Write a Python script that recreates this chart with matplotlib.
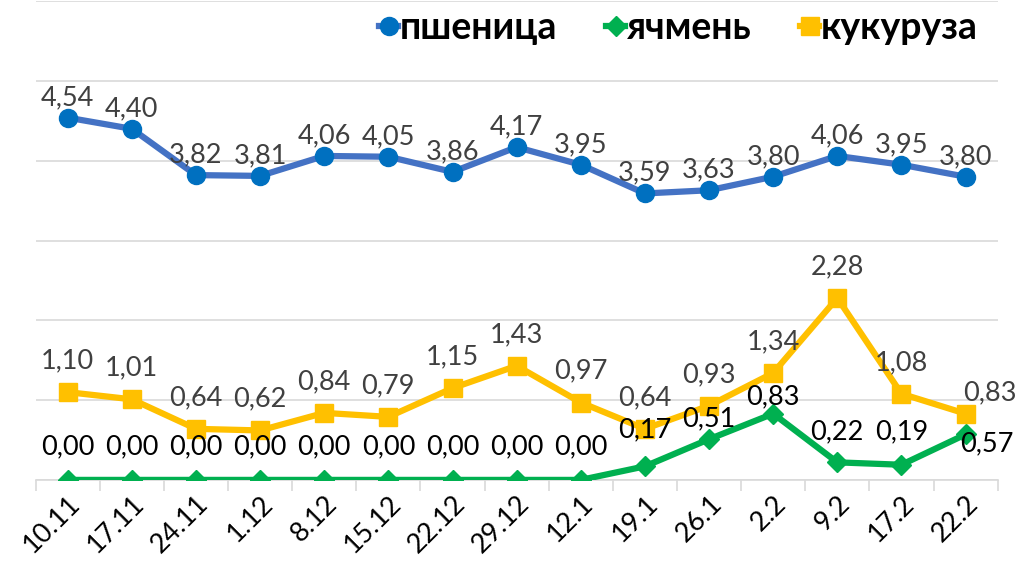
import matplotlib
matplotlib.use('Agg')
import matplotlib.pyplot as plt

plt.rcParams['font.family'] = ['Lato', 'DejaVu Sans']

dates = ['10.11', '17.11', '24.11', '1.12', '8.12', '15.12', '22.12', '29.12',
         '12.1', '19.1', '26.1', '2.2', '9.2', '17.2', '22.2']
wheat = [4.54, 4.40, 3.82, 3.81, 4.06, 4.05, 3.86, 4.17, 3.95, 3.59, 3.63, 3.80, 4.06, 3.95, 3.80]
barley = [0.00, 0.00, 0.00, 0.00, 0.00, 0.00, 0.00, 0.00, 0.00, 0.17, 0.51, 0.83, 0.22, 0.19, 0.57]
corn = [1.10, 1.01, 0.64, 0.62, 0.84, 0.79, 1.15, 1.43, 0.97, 0.64, 0.93, 1.34, 2.28, 1.08, 0.83]

# label offsets (points) for barley, Excel placed them unevenly
barley_dy = [24, 24, 24, 24, 24, 24, 24, 24, 24, 26, 15, 12, 22, 24, -7]

fig = plt.figure(figsize=(10.18, 5.72), dpi=100)
ax = fig.add_axes([0.035, 0.161, 0.945, 0.837])
x = list(range(len(dates)))

ax.plot(x, wheat, color='#4472C4', lw=4.5, marker='o', ms=13,
        mfc='#0070C0', mec='#0070C0', label='пшеница', zorder=3)
ax.plot(x, barley, color='#00B050', lw=4.5, marker='D', ms=10,
        mfc='#00B050', mec='#00B050', label='ячмень', zorder=3)
ax.plot(x, corn, color='#FFC000', lw=4.5, marker='s', ms=13.5,
        mfc='#FFC000', mec='#FFC000', label='кукуруза', zorder=3)

fs = 19.5
fmt = lambda v: f'{v:.2f}'.replace('.', ',')
for i, v in enumerate(wheat):
    ax.annotate(fmt(v), (i, v), xytext=(0, 14.5), textcoords='offset points',
                ha='center', va='center', fontsize=fs, color='#404040')
for i, v in enumerate(corn):
    if i == len(corn) - 1:
        ax.annotate(fmt(v), (i, v), xytext=(-2, 15), textcoords='offset points',
                    ha='left', va='center', fontsize=fs, color='#404040')
    else:
        ax.annotate(fmt(v), (i, v), xytext=(0, 22.5), textcoords='offset points',
                    ha='center', va='center', fontsize=fs, color='#404040')
for i, v in enumerate(barley):
    if i == len(barley) - 1:
        ax.annotate(fmt(v), (i, v), xytext=(-4, barley_dy[i]), textcoords='offset points',
                    ha='left', va='center', fontsize=fs, color='black')
    else:
        ax.annotate(fmt(v), (i, v), xytext=(0, barley_dy[i]), textcoords='offset points',
                    ha='center', va='center', fontsize=fs, color='black')

ax.set_xlim(-0.5, len(dates) - 0.5)
ax.set_ylim(0, 6)
ax.set_yticks([0, 1, 2, 3, 4, 5, 6])
ax.set_yticklabels([])
ax.tick_params(axis='y', length=0)
ax.grid(axis='y', color='#D9D9D9', lw=1.2, zorder=0)
ax.set_axisbelow(True)

ax.set_xticks([i - 0.5 for i in range(len(dates) + 1)], minor=False)
ax.set_xticklabels([])
ax.tick_params(axis='x', which='major', length=8, color='#D9D9D9', width=1.2)
ax.set_xticks(x, minor=True)
ax.set_xticklabels(dates, minor=True, rotation=45, ha='right',
                   rotation_mode='anchor', fontsize=19.5)
ax.tick_params(axis='x', which='minor', length=0, pad=8)

for s in ['top', 'right', 'left']:
    ax.spines[s].set_visible(False)
ax.spines['bottom'].set_color('#D9D9D9')
ax.spines['bottom'].set_linewidth(1.2)

leg = ax.legend(loc='upper right', bbox_to_anchor=(0.995, 1.01), ncol=3, frameon=False,
                handlelength=0.5, handletextpad=0.05, columnspacing=1.3,
                prop={'weight': 'bold', 'size': 27}, borderaxespad=0.0)

fig.savefig('out.png', dpi=100, facecolor='white')
